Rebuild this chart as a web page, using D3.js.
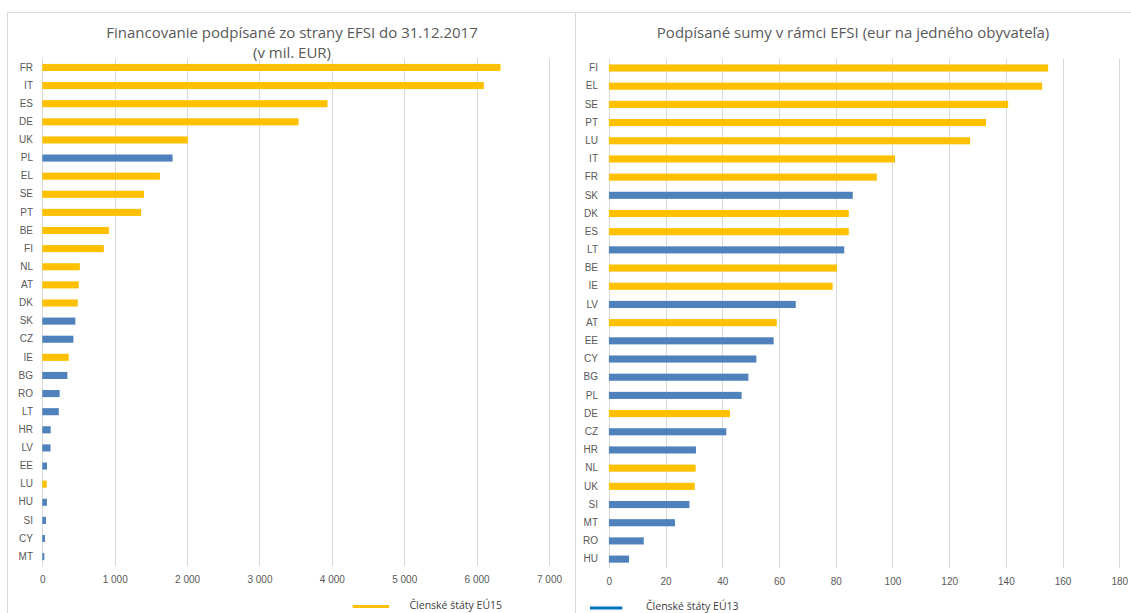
<!DOCTYPE html>
<html><head><meta charset="utf-8">
<script src="https://cdn.jsdelivr.net/npm/d3@7"></script>
<style>
body{margin:0;background:#fff;}
svg{display:block;font-family:"Open Sans","Noto Sans",sans-serif;}
</style></head>
<body><svg id="c" width="1131" height="613"></svg>
<script>
// Left chart: signed financing (mil. EUR)
const leftCountries = ["FR","IT","ES","DE","UK","PL","EL","SE","PT","BE","FI","NL","AT","DK","SK","CZ","IE","BG","RO","LT","HR","LV","EE","LU","HU","SI","CY","MT"];
const leftValues    = [6330,6100,3940,3540,2010,1800,1625,1405,1365,920,850,518,504,490,457,430,365,346,240,228,116,114,65,61,64,51,37,28];
const leftGroups    = ["EU15","EU15","EU15","EU15","EU15","EU13","EU15","EU15","EU15","EU15","EU15","EU15","EU15","EU15","EU13","EU13","EU15","EU13","EU13","EU13","EU13","EU13","EU13","EU15","EU13","EU13","EU13","EU13"];
const leftTicks     = [0,1000,2000,3000,4000,5000,6000,7000];

// Right chart: signed amounts per inhabitant (EUR)
const rightCountries = ["FI","EL","SE","PT","LU","IT","FR","SK","DK","ES","LT","BE","IE","LV","AT","EE","CY","BG","PL","DE","CZ","HR","NL","UK","SI","MT","RO","HU"];
const rightValues    = [154.9,152.8,140.8,133.0,127.4,100.9,94.5,86.0,84.6,84.6,83.0,80.4,78.9,65.9,59.2,58.1,52.0,49.2,46.8,42.7,41.4,30.7,30.6,30.3,28.4,23.3,12.3,7.1];
const rightGroups    = ["EU15","EU15","EU15","EU15","EU15","EU15","EU15","EU13","EU15","EU15","EU13","EU15","EU15","EU13","EU15","EU13","EU13","EU13","EU13","EU15","EU13","EU13","EU15","EU15","EU13","EU13","EU13","EU13"];
const rightTicks     = [0,20,40,60,80,100,120,140,160,180];

const legendLabels = {EU15:"Členské štáty EÚ15", EU13:"Členské štáty EÚ13"};
const titleLeft = ["Financovanie podpísané zo strany EFSI do 31.12.2017","(v mil.  EUR)"];
const titleRight = "Podpísané sumy v rámci EFSI (eur na jedného obyvateľa)";

const colors = {EU15:"#FFC000", EU13:"#4F81BD"};
const legendColors = {EU15:"#FFC000", EU13:"#0070C0"};
const textColor = "#595959", gridColor = "#d9d9d9";
const fmt = v => d3.format(",")(v).replace(/,/g," ");

const svg = d3.select("#c");

// chart frames
const frame = svg.append("g").attr("fill","none").attr("stroke","#d9d9d9").attr("stroke-width",1);
frame.append("path").attr("d","M7.5,620V12.5H575.5V620");
frame.append("path").attr("d","M575.5,12.5H1140");

function drawChart(cfg){
  const g = svg.append("g");
  const x = d3.scaleLinear().domain(cfg.domain).range(cfg.xr);
  const y = d3.scaleBand().domain(cfg.cats).range(cfg.yr).paddingInner(0.61).paddingOuter(0.305);
  // grid
  g.append("g").selectAll("line").data(cfg.ticks).join("line")
    .attr("x1",d=>Math.round(x(d))+0.5).attr("x2",d=>Math.round(x(d))+0.5)
    .attr("y1",cfg.yr[0]).attr("y2",cfg.yr[1])
    .attr("stroke",gridColor).attr("stroke-width",1);
  // bars
  g.append("g").selectAll("rect").data(cfg.cats).join("rect")
    .attr("x",x(0)).attr("y",d=>y(d))
    .attr("width",(d,i)=>x(cfg.vals[i])-x(0)).attr("height",y.bandwidth())
    .attr("fill",(d,i)=>colors[cfg.groups[i]]);
  // x axis
  const ax = g.append("g").attr("transform",`translate(0,${cfg.tickY})`)
    .call(d3.axisBottom(x).tickValues(cfg.ticks).tickFormat(fmt).tickSize(0).tickPadding(0));
  ax.select(".domain").remove();
  ax.selectAll("text").attr("fill",textColor).style("font-size","10px").attr("dy","0.32em");
  // y axis
  const ay = g.append("g").attr("transform",`translate(${cfg.labelX},0)`)
    .call(d3.axisLeft(y).tickSize(0).tickPadding(0));
  ay.select(".domain").remove();
  ay.selectAll("text").attr("fill",textColor).style("font-size","10px");
}

drawChart({domain:[0,7000], xr:[42.3,549], yr:[58.4,565.7], cats:leftCountries, vals:leftValues, groups:leftGroups, ticks:leftTicks, tickY:580, labelX:33});
drawChart({domain:[0,180], xr:[608.9,1119.3], yr:[58.9,568.2], cats:rightCountries, vals:rightValues, groups:rightGroups, ticks:rightTicks, tickY:582, labelX:598});

// titles
const tl = svg.append("text").attr("x",292).attr("y",38).attr("text-anchor","middle")
  .attr("fill",textColor).style("font-size","15px");
tl.append("tspan").attr("x",292).attr("y",38).text(titleLeft[0]);
tl.append("tspan").attr("x",292).attr("y",58).text(titleLeft[1]);
svg.append("text").attr("x",853).attr("y",38).attr("text-anchor","middle")
  .attr("fill",textColor).style("font-size","15px").text(titleRight);

// legends
function legend(key,x1,x2,ly,tx,ty){
  svg.append("line").attr("x1",x1).attr("x2",x2).attr("y1",ly).attr("y2",ly)
    .attr("stroke",legendColors[key]).attr("stroke-width",3);
  svg.append("text").attr("x",tx).attr("y",ty).attr("fill","#404040").style("font-size","10.5px").text(legendLabels[key]);
}
legend("EU15",352.7,389,606.5,409.5,609);
legend("EU13",590,622.3,608,646,609.5);
</script></body></html>
